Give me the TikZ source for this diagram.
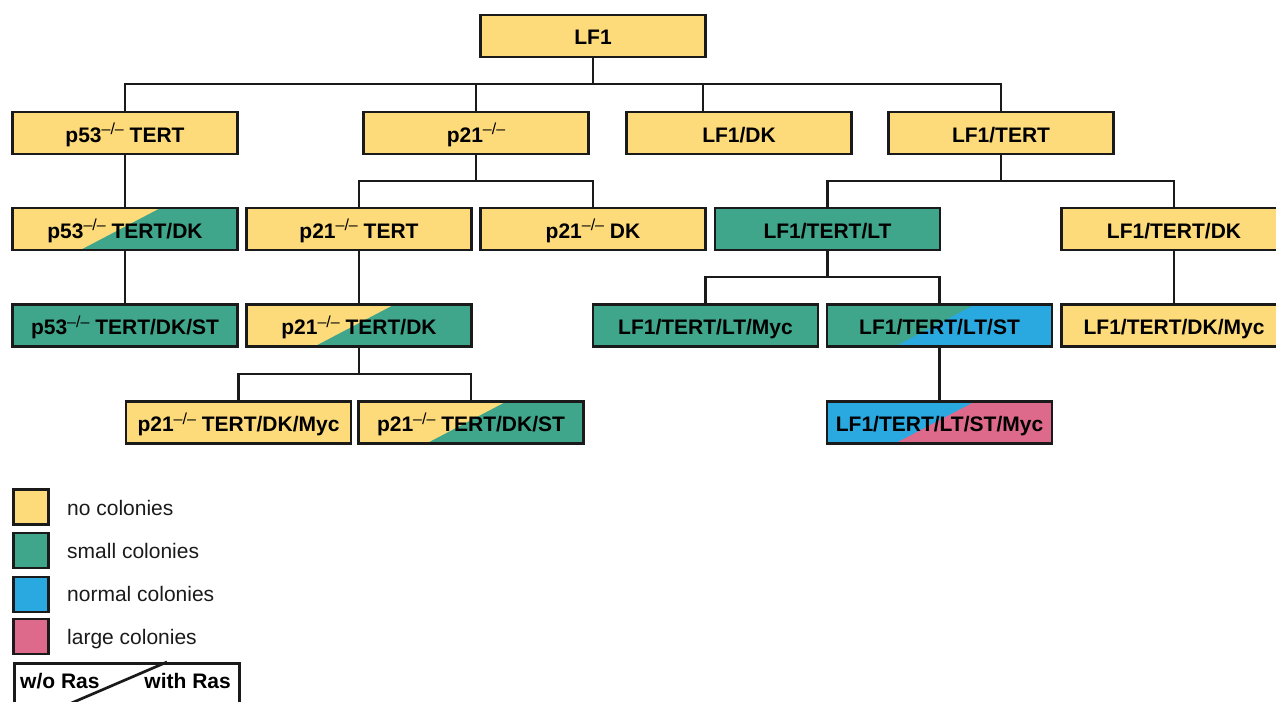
\documentclass[tikz,border=0pt]{standalone}
\usepackage{fontspec}
\setmainfont{Liberation Sans}
\usetikzlibrary{calc}
\definecolor{cyel}{HTML}{FDDA7A}
\definecolor{cgrn}{HTML}{3FA68B}
\definecolor{cblu}{HTML}{29A9E0}
\definecolor{cpnk}{HTML}{DD6A8A}
\definecolor{cline}{HTML}{1A1A1A}
\newcommand{\KOsup}{\raisebox{7.5pt}{\fontsize{16}{16}\selectfont\mdseries –/–}}
\tikzset{
  box/.style={draw=cline, line width=2.6pt, minimum width=225pt, minimum height=42pt,
    inner sep=0pt, text height=19pt, text depth=1pt,
    font=\fontsize{21}{24}\selectfont\bfseries, text=black},
  yel/.style={box, fill=cyel},
  grn/.style={box, fill=cgrn},
  split/.style 2 args={box, fill=#1, path picture={
    \fill[#2] ($(path picture bounding box.north west)+(148pt,0pt)$)
      -- (path picture bounding box.north east)
      -- (path picture bounding box.south east)
      -- ($(path picture bounding box.south west)+(68pt,0pt)$) -- cycle;}},
  conn/.style={draw=cline, line width=2.7pt},
  legsq/.style={draw=cline, line width=2.6pt, minimum size=35pt, inner sep=0pt},
  legtxt/.style={anchor=base west, inner sep=0pt, font=\fontsize{21}{24}\selectfont, text=cline},
  rastxt/.style={inner sep=0pt, font=\fontsize{21}{24}\selectfont\bfseries, text=black}
}
\begin{document}
\begin{tikzpicture}[x=1pt, y=-1pt]
\useasboundingbox (0,0) rectangle (1276,701);
% nodes
\node[yel] (lf1) at (593,36) {LF1};
\node[yel] (p53t) at (125,133) {p53\KOsup\ TERT};
\node[yel] (p21) at (476,133) {p21\KOsup};
\node[yel] (lf1dk) at (739,133) {LF1/DK};
\node[yel] (lf1tert) at (1001,133) {LF1/TERT};
\node[split={cyel}{cgrn}] (p53tdk) at (125,229) {p53\KOsup\ TERT/DK};
\node[yel] (p21tert) at (359,229) {p21\KOsup\ TERT};
\node[yel] (p21dk) at (593,229) {p21\KOsup\ DK};
\node[grn] (lt) at (827.5,229) {LF1/TERT/LT};
\node[yel] (tdk) at (1174,229) {LF1/TERT/DK};
\node[grn] (p53tdkst) at (125,325.5) {p53\KOsup\ TERT/DK/ST};
\node[split={cyel}{cgrn}] (p21tertdk) at (359,325.5) {p21\KOsup\ TERT/DK};
\node[grn] (ltmyc) at (705.5,325.5) {LF1/TERT/LT/Myc};
\node[split={cgrn}{cblu}] (ltst) at (939.5,325.5) {LF1/TERT/LT/ST};
\node[yel] (tdkmyc) at (1174,325.5) {LF1/TERT/DK/Myc};
\node[yel] (p21myc) at (238.5,422.5) {p21\KOsup\ TERT/DK/Myc};
\node[split={cyel}{cgrn}] (p21st) at (471,422.5) {p21\KOsup\ TERT/DK/ST};
\node[split={cblu}{cpnk}] (ltstmyc) at (939.5,422.5) {LF1/TERT/LT/ST/Myc};
% bus coordinates
\coordinate (b1) at (593,84);
\coordinate (b2) at (0,181);
\coordinate (b3) at (0,277);
\coordinate (b4) at (0,374);
\coordinate (dkdrop) at ([xshift=-36pt]lf1dk.north);
% connectors
\draw[conn] (lf1.south) -- (b1);
\draw[conn] (p53t.north) |- (lf1tert.north |- b1) -- (lf1tert.north);
\draw[conn] (p21.north) -- (p21.north |- b1);
\draw[conn] (dkdrop) -- (dkdrop |- b1);
\draw[conn] (p53t.south) -- (p53tdk.north);
\draw[conn] (p53tdk.south) -- (p53tdkst.north);
\draw[conn] (p21.south) -- (p21.south |- b2);
\draw[conn] (p21tert.north) |- (p21dk.north |- b2) -- (p21dk.north);
\draw[conn] (p21tert.south) -- (p21tertdk.north);
\draw[conn] (p21tertdk.south) -- (p21tertdk.south |- b4);
\draw[conn] (p21myc.north) |- (p21st.north |- b4) -- (p21st.north);
\draw[conn] (lf1tert.south) -- (lf1tert.south |- b2);
\draw[conn] (lt.north) |- (tdk.north |- b2) -- (tdk.north);
\draw[conn] (lt.south) -- (lt.south |- b3);
\draw[conn] (ltmyc.north) |- (ltst.north |- b3) -- (ltst.north);
\draw[conn] (ltst.south) -- (ltstmyc.north);
\draw[conn] (tdk.south) -- (tdkmyc.north);
% legend
\node[legsq, fill=cyel] (lg1) at (31,507) {};
\node[legsq, fill=cgrn] (lg2) at (31,550.5) {};
\node[legsq, fill=cblu] (lg3) at (31,594.5) {};
\node[legsq, fill=cpnk] (lg4) at (31,636.5) {};
\node[legtxt] (lt1) at (67,515) {no colonies};
\node[legtxt] (lt2) at (67,558) {small colonies};
\node[legtxt] (lt3) at (67,601) {normal colonies};
\node[legtxt] (lt4) at (67,644) {large colonies};
\node[draw=cline, line width=2.6pt, minimum width=225pt, minimum height=60pt, inner sep=0pt, anchor=north west] (rasbox) at (13,662) {};
\coordinate (rd1) at (167,662);
\coordinate (rd2) at (32,720);
\draw[conn] (rd1) -- (rd2);
\node[rastxt, anchor=base west] (wo) at (20,688) {w/o Ras};
\node[rastxt, anchor=base east] (with) at (231,688) {with Ras};
\end{tikzpicture}
\end{document}
